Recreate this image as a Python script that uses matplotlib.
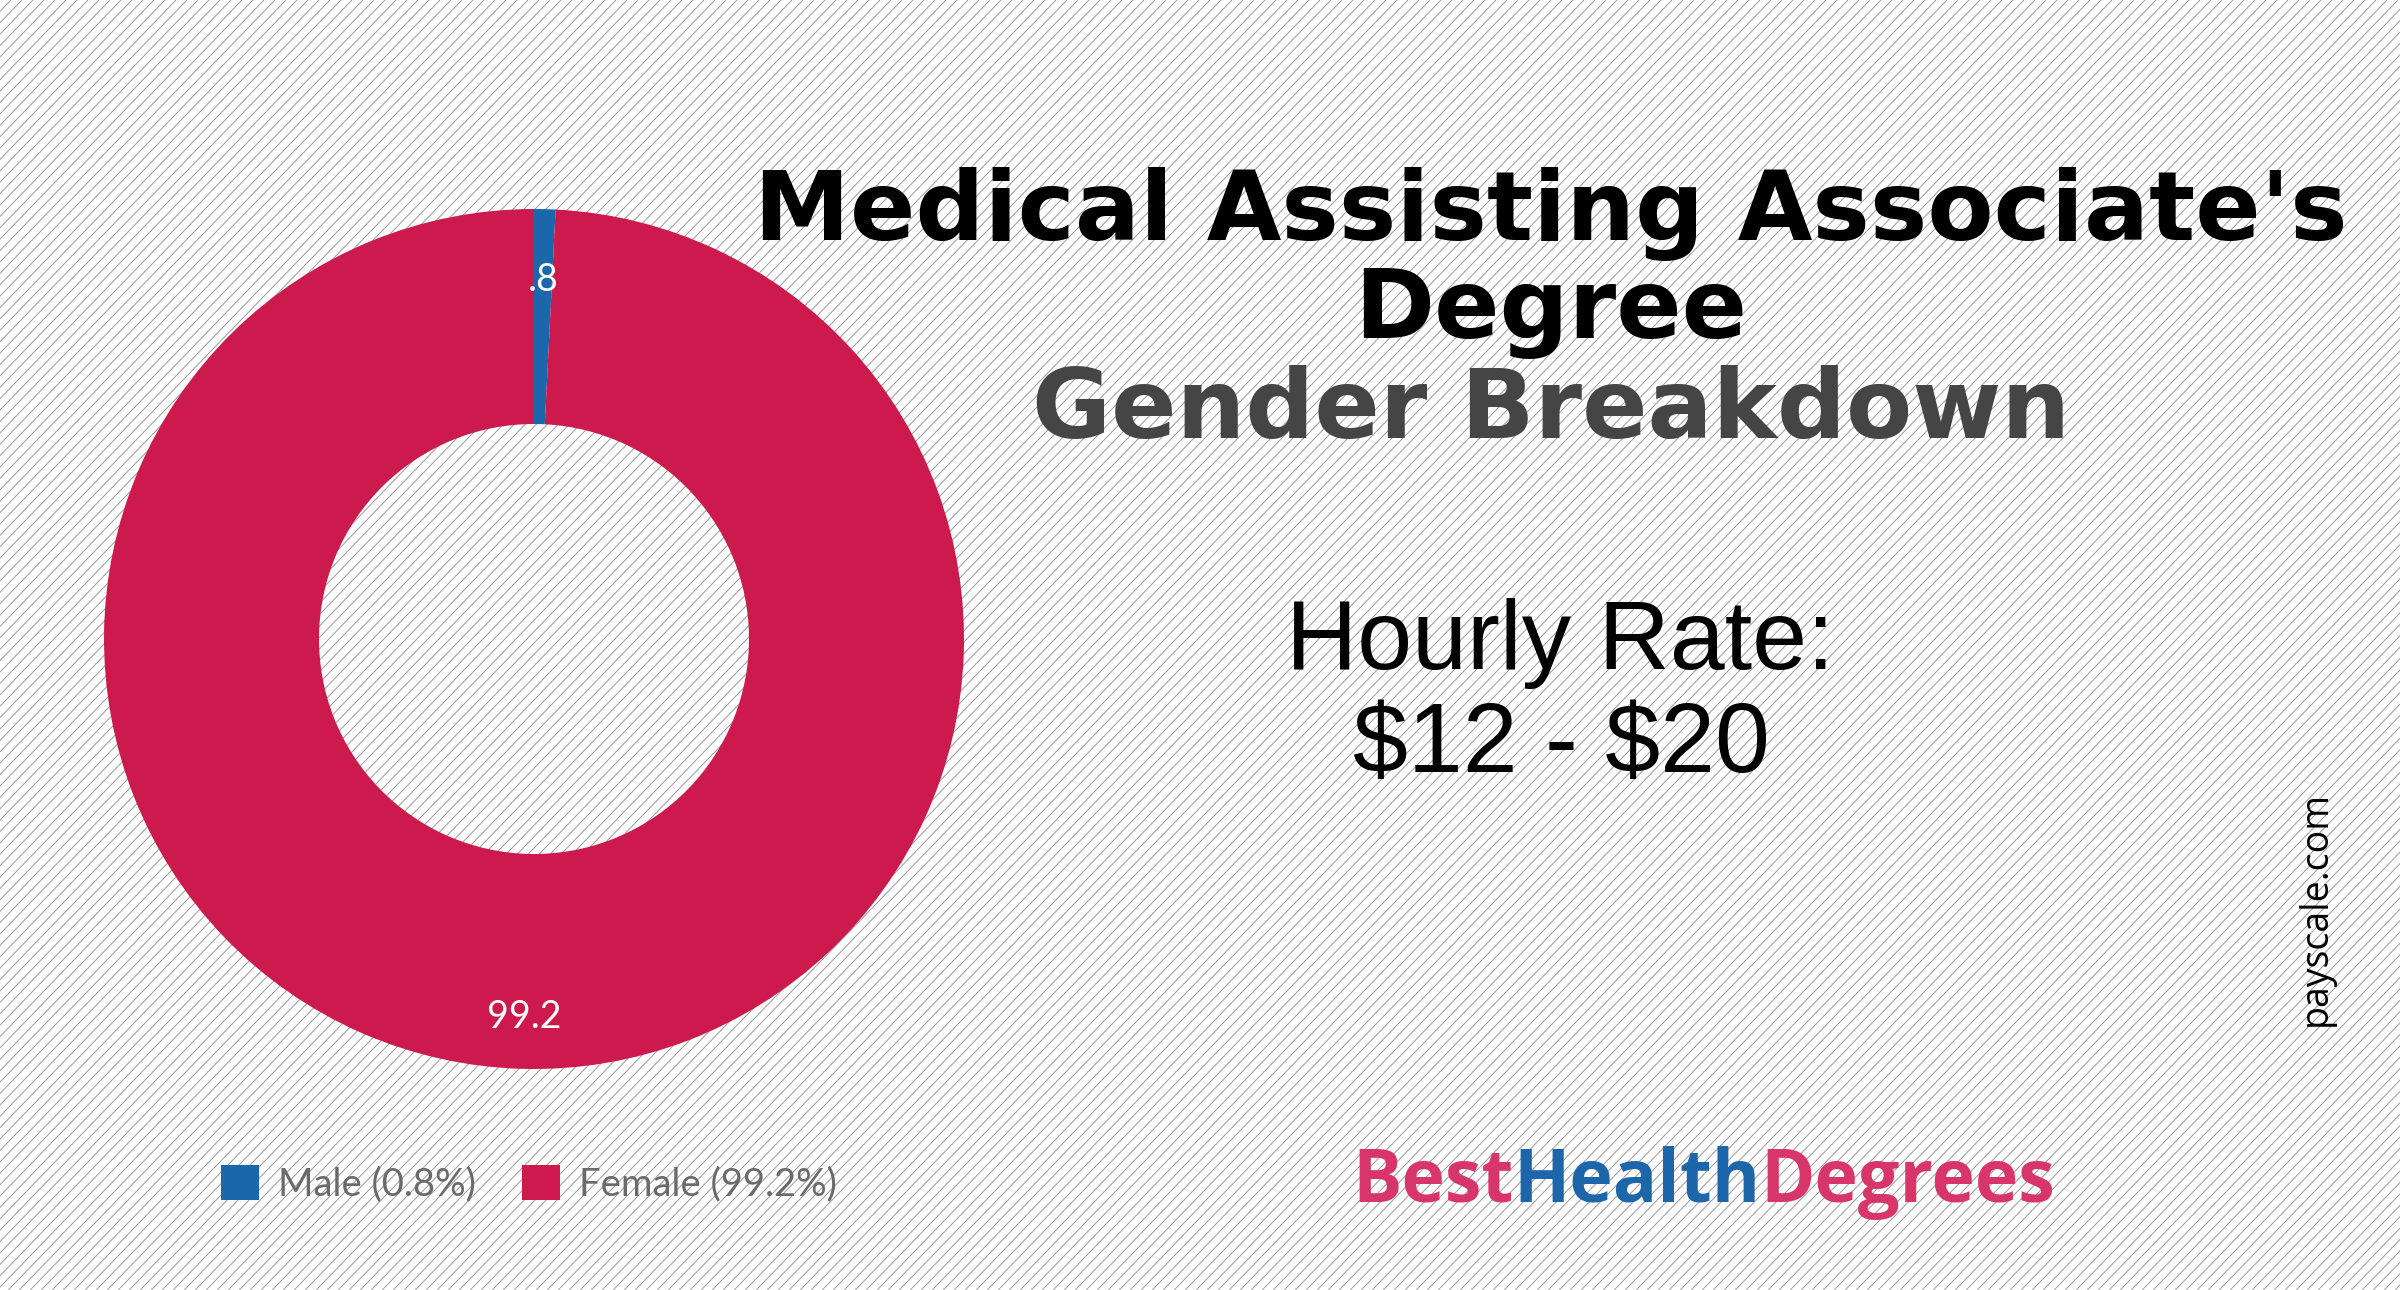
import numpy as np
import matplotlib
matplotlib.use("Agg")
import matplotlib.pyplot as plt
from matplotlib.collections import LineCollection

# ---- data ----
categories = ["Male", "Female"]
values = [0.8, 99.2]
slice_labels = [".8", "99.2"]
legend_labels = ["Male (0.8%)", "Female (99.2%)"]
colors = ["#1a67ab", "#cc1a4d"]
title_lines = ["Medical Assisting Associate's", "Degree"]
subtitle = "Gender Breakdown"
rate_lines = ["Hourly Rate:", "$12 - $20"]
source = "payscale.com"
logo_parts = [("Best", "#d8356a"), ("Health", "#1d66aa"), ("Degrees", "#d8356a")]

W, H = 2400, 1290
fig = plt.figure(figsize=(W / 100, H / 100), dpi=100)
fig.patch.set_facecolor("white")

def fx(x):
    return x / W

def fy(y):
    return 1 - y / H

# ---- hatched background ----
bg = fig.add_axes([0, 0, 1, 1], zorder=0)
bg.set_xlim(0, W)
bg.set_ylim(H, 0)
bg.axis("off")
step = 11.0
run = H / np.tan(np.deg2rad(46))
segs = []
x0 = -run
while x0 < W + 10:
    segs.append([(x0, H), (x0 + run, 0)])
    x0 += step
bg.add_collection(LineCollection(segs, colors="#9a9a9a", linewidths=0.7))

# ---- donut ----
cx, cy, R = 534, 639, 430
ax = fig.add_axes([fx(cx - R), fy(cy + R), 2 * R / W, 2 * R / H], zorder=2)
ax.patch.set_alpha(0)
wedges, _ = ax.pie(values, colors=colors, startangle=90, counterclock=False,
                   radius=1.0, wedgeprops=dict(width=0.5, linewidth=0))
ax.set_xlim(-1, 1)
ax.set_ylim(-1, 1)
ax.set_aspect("equal")
ax.axis("off")
label_r = [0.835, 0.88]
for w, lab, r in zip(wedges, slice_labels, label_r):
    ang = np.deg2rad((w.theta1 + w.theta2) / 2)
    ax.text(r * np.cos(ang), r * np.sin(ang), lab, color="white",
            fontsize=27, family="Lato", ha="center", va="center")

# ---- legend ----
leg = fig.legend(wedges, legend_labels, loc="center left",
                 bbox_to_anchor=(fx(221), fy(1184)), ncol=2, frameon=False,
                 prop=dict(family="Lato", size=27.5), handlelength=1.0,
                 handleheight=1.0, handletextpad=0.5, columnspacing=1.2,
                 borderpad=0, borderaxespad=0)
for t in leg.get_texts():
    t.set_color("#6a6a6a")

# ---- titles ----
tx = 1551
tsize = 69.5
fig.text(fx(tx), fy(240), title_lines[0], ha="center", va="baseline",
         fontsize=tsize, fontweight="bold", family="DejaVu Sans", color="black")
fig.text(fx(tx), fy(338), title_lines[1], ha="center", va="baseline",
         fontsize=tsize, fontweight="bold", family="DejaVu Sans", color="black")
fig.text(fx(tx), fy(438), subtitle, ha="center", va="baseline",
         fontsize=tsize, fontweight="bold", family="DejaVu Sans", color="#454545")

fig.text(fx(1560), fy(669), rate_lines[0], ha="center", va="baseline",
         fontsize=71, family="Liberation Sans", color="black", parse_math=False)
fig.text(fx(1561), fy(772), rate_lines[1], ha="center", va="baseline",
         fontsize=71, family="Liberation Sans", color="black", parse_math=False)

fig.text(fx(2316), fy(908), source, ha="center", va="center", rotation=90,
         fontsize=27, family="Open Sans", color="black")

# ---- logo ----
prev = None
for txt, col in logo_parts:
    if prev is None:
        prev = bg.text(1352, 1202, txt, ha="left", va="baseline",
                       fontsize=53, fontweight="bold", family="Open Sans", color=col)
    else:
        prev = bg.annotate(txt, xy=(1, 0), xycoords=prev, ha="left", va="bottom",
                           fontsize=53, fontweight="bold", family="Open Sans", color=col)

fig.savefig("out.png", dpi=100, facecolor="white")
